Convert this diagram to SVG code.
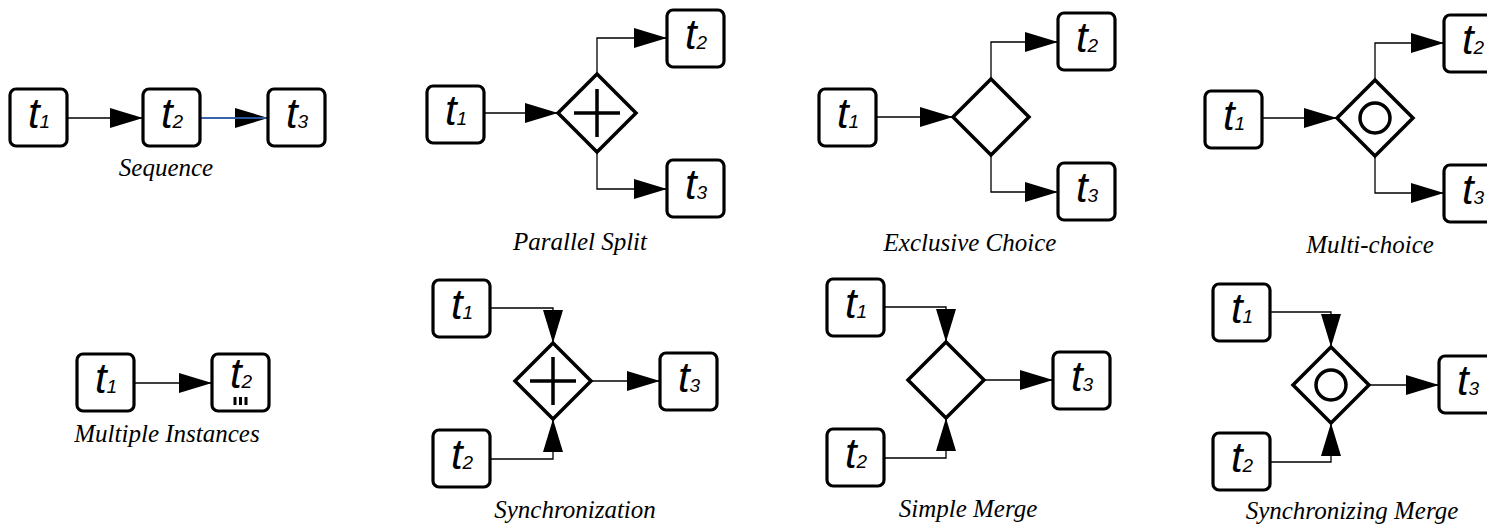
<svg xmlns="http://www.w3.org/2000/svg" width="1487" height="528" viewBox="0 0 1487 528">
<style>
.box{fill:#fff;stroke:#000;stroke-width:3.2}
.gw{fill:#fff;stroke:#000;stroke-width:3.5;stroke-linejoin:miter}
.mk{fill:none;stroke:#000;stroke-width:3.5}
.ln{fill:none;stroke:#000;stroke-width:1.3}
.t{font-family:"Liberation Sans",Arial,sans-serif;font-style:italic;font-size:42px;text-anchor:middle;fill:#000}
.s{font-size:19px}
.lbl{font-family:"Liberation Serif","Times New Roman",serif;font-style:italic;font-size:25px;text-anchor:middle;fill:#000}
</style>
<defs>
<marker id="ah" markerUnits="userSpaceOnUse" markerWidth="33" markerHeight="20" refX="33" refY="10" orient="auto">
<path d="M0,0 L33,10 L0,20 Z" fill="#000"/>
</marker>
</defs>
<rect width="1487" height="528" fill="#fff"/>

<g id="connectors">
<line class="ln" x1="67" y1="118" x2="143" y2="118" marker-end="url(#ah)"/>
<line class="ln" x1="200" y1="118" x2="268" y2="118" marker-end="url(#ah)"/>
<line x1="200" y1="118" x2="272" y2="118" stroke="#3a6fd0" stroke-width="1.5"/>
<line class="ln" x1="484" y1="113" x2="558" y2="113" marker-end="url(#ah)"/>
<polyline class="ln" points="597,74 597,38 667,38" marker-end="url(#ah)"/>
<polyline class="ln" points="597,152 597,189 667,189" marker-end="url(#ah)"/>
<line class="ln" x1="876" y1="117" x2="953" y2="117" marker-end="url(#ah)"/>
<polyline class="ln" points="991,79 991,42 1058,42" marker-end="url(#ah)"/>
<polyline class="ln" points="991,155 991,192 1058,192" marker-end="url(#ah)"/>
<line class="ln" x1="1262" y1="118" x2="1337" y2="118" marker-end="url(#ah)"/>
<polyline class="ln" points="1375,80 1375,43 1444,43" marker-end="url(#ah)"/>
<polyline class="ln" points="1375,156 1375,193 1444,193" marker-end="url(#ah)"/>
<line class="ln" x1="134" y1="383" x2="212" y2="383" marker-end="url(#ah)"/>
<polyline class="ln" points="490,308 553,308 553,343" marker-end="url(#ah)"/>
<polyline class="ln" points="490,459 553,459 553,419" marker-end="url(#ah)"/>
<line class="ln" x1="591" y1="381" x2="660" y2="381" marker-end="url(#ah)"/>
<polyline class="ln" points="884,307 946,307 946,342" marker-end="url(#ah)"/>
<polyline class="ln" points="884,458 946,458 946,418" marker-end="url(#ah)"/>
<line class="ln" x1="984" y1="380" x2="1053" y2="380" marker-end="url(#ah)"/>
<polyline class="ln" points="1270,312 1331,312 1331,347" marker-end="url(#ah)"/>
<polyline class="ln" points="1270,462 1331,462 1331,423" marker-end="url(#ah)"/>
<line class="ln" x1="1369" y1="385" x2="1439" y2="385" marker-end="url(#ah)"/>
</g>

<g id="seq-t1"><rect class="box" x="10" y="89" width="57" height="57" rx="6"/><text class="t" x="39" y="128">t<tspan class="s">1</tspan></text></g>
<g id="seq-t2"><rect class="box" x="143" y="89" width="57" height="57" rx="6"/><text class="t" x="172" y="128">t<tspan class="s">2</tspan></text></g>
<g id="seq-t3"><rect class="box" x="268" y="89" width="57" height="57" rx="6"/><text class="t" x="297" y="128">t<tspan class="s">3</tspan></text></g>
<text class="lbl" x="166" y="176">Sequence</text>

<g id="ps-t1"><rect class="box" x="427" y="86" width="57" height="57" rx="6"/><text class="t" x="456" y="125">t<tspan class="s">1</tspan></text></g>
<g id="ps-and"><polygon class="gw" points="558,113 597,74 636,113 597,152"/><path class="mk" d="M574,113 H620 M597,89 V137"/></g>
<g id="ps-t2"><rect class="box" x="667" y="10" width="57" height="57" rx="6"/><text class="t" x="696" y="49">t<tspan class="s">2</tspan></text></g>
<g id="ps-t3"><rect class="box" x="667" y="160" width="57" height="57" rx="6"/><text class="t" x="696" y="199">t<tspan class="s">3</tspan></text></g>
<text class="lbl" x="580" y="250">Parallel Split</text>

<g id="xc-t1"><rect class="box" x="819" y="89" width="57" height="57" rx="6"/><text class="t" x="848" y="128">t<tspan class="s">1</tspan></text></g>
<g id="xc-xor"><polygon class="gw" points="953,117 991,79 1029,117 991,155"/></g>
<g id="xc-t2"><rect class="box" x="1058" y="13" width="57" height="57" rx="6"/><text class="t" x="1087" y="52">t<tspan class="s">2</tspan></text></g>
<g id="xc-t3"><rect class="box" x="1058" y="163" width="57" height="57" rx="6"/><text class="t" x="1087" y="202">t<tspan class="s">3</tspan></text></g>
<text class="lbl" x="970" y="251">Exclusive Choice</text>

<g id="mc-t1"><rect class="box" x="1205" y="91" width="57" height="57" rx="6"/><text class="t" x="1234" y="130">t<tspan class="s">1</tspan></text></g>
<g id="mc-or"><polygon class="gw" points="1337,118 1375,80 1413,118 1375,156"/><circle class="mk" cx="1375" cy="118" r="15" stroke-width="3"/></g>
<g id="mc-t2"><rect class="box" x="1444" y="15" width="57" height="57" rx="6"/><text class="t" x="1473" y="54">t<tspan class="s">2</tspan></text></g>
<g id="mc-t3"><rect class="box" x="1444" y="165" width="57" height="57" rx="6"/><text class="t" x="1473" y="204">t<tspan class="s">3</tspan></text></g>
<text class="lbl" x="1370" y="253">Multi-choice</text>

<g id="mi-t1"><rect class="box" x="77" y="354" width="57" height="57" rx="6"/><text class="t" x="106" y="393">t<tspan class="s">1</tspan></text></g>
<g id="mi-t2"><rect class="box" x="212" y="354" width="57" height="57" rx="6"/><text class="t" x="241" y="388">t<tspan class="s">2</tspan></text>
<rect x="233.5" y="397" width="3" height="8" fill="#000"/><rect x="239" y="397" width="3" height="8" fill="#000"/><rect x="244.5" y="397" width="3" height="8" fill="#000"/></g>
<text class="lbl" x="167" y="442">Multiple Instances</text>

<g id="sy-t1"><rect class="box" x="433" y="280" width="57" height="57" rx="6"/><text class="t" x="462" y="319">t<tspan class="s">1</tspan></text></g>
<g id="sy-t2"><rect class="box" x="433" y="430" width="57" height="57" rx="6"/><text class="t" x="462" y="469">t<tspan class="s">2</tspan></text></g>
<g id="sy-and"><polygon class="gw" points="515,381 553,343 591,381 553,419"/><path class="mk" d="M530,381 H576 M553,357 V405"/></g>
<g id="sy-t3"><rect class="box" x="660" y="353" width="57" height="57" rx="6"/><text class="t" x="689" y="392">t<tspan class="s">3</tspan></text></g>
<text class="lbl" x="575" y="518">Synchronization</text>

<g id="sm-t1"><rect class="box" x="827" y="279" width="57" height="57" rx="6"/><text class="t" x="856" y="318">t<tspan class="s">1</tspan></text></g>
<g id="sm-t2"><rect class="box" x="827" y="429" width="57" height="57" rx="6"/><text class="t" x="856" y="468">t<tspan class="s">2</tspan></text></g>
<g id="sm-xor"><polygon class="gw" points="908,380 946,342 984,380 946,418"/></g>
<g id="sm-t3"><rect class="box" x="1053" y="352" width="57" height="57" rx="6"/><text class="t" x="1082" y="391">t<tspan class="s">3</tspan></text></g>
<text class="lbl" x="968" y="517">Simple Merge</text>

<g id="smg-t1"><rect class="box" x="1213" y="284" width="57" height="57" rx="6"/><text class="t" x="1242" y="323">t<tspan class="s">1</tspan></text></g>
<g id="smg-t2"><rect class="box" x="1213" y="433" width="57" height="57" rx="6"/><text class="t" x="1242" y="472">t<tspan class="s">2</tspan></text></g>
<g id="smg-or"><polygon class="gw" points="1293,385 1331,347 1369,385 1331,423"/><circle class="mk" cx="1331" cy="385" r="15" stroke-width="3"/></g>
<g id="smg-t3"><rect class="box" x="1439" y="356" width="57" height="57" rx="6"/><text class="t" x="1468" y="395">t<tspan class="s">3</tspan></text></g>
<text class="lbl" x="1352" y="519">Synchronizing Merge</text>
</svg>
